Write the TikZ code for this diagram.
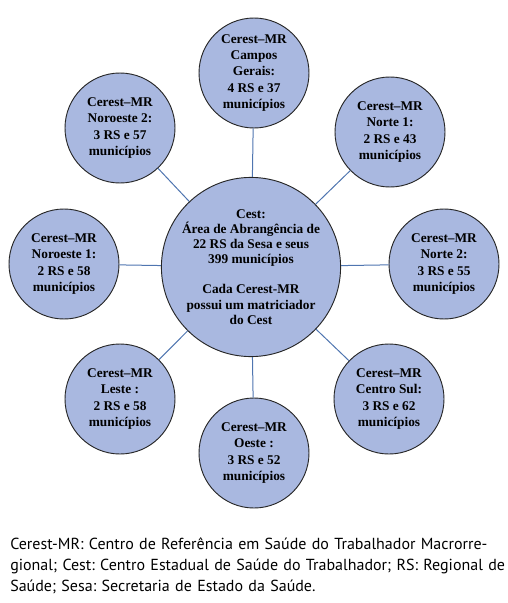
\documentclass[tikz,border=0pt]{standalone}
\usepackage{fontspec}
\setmainfont{Liberation Serif}
\newfontfamily\legendafont{PT Sans}
\usepackage{tikz}
\usetikzlibrary{positioning}
\definecolor{preenchimento}{HTML}{A9B8E0}
\definecolor{ligacao}{HTML}{4F75B0}
\tikzset{regiao/.style = {draw = black!85, fill = preenchimento, circle, line width = 0.7pt, minimum size = 82.5pt, inner sep = 0, align = center, font = \bfseries\fontsize{10}{12.2}\selectfont}}
\tikzset{cestcirc/.style = {regiao, minimum size = 124.5pt, font = \bfseries\fontsize{10}{11.3}\selectfont}}
\tikzset{liga/.style = {draw = ligacao, line width = 0.75pt}}
\begin{document}
\begin{tikzpicture}[x = 0.75pt, y = -0.75pt]
    \useasboundingbox (0, 0) rectangle (507, 603);

    \node [cestcirc] (cest) at (251, 267) {Cest:\\Área de Abrangência de\\22 RS da Sesa e seus\\399 municípios\\[11.3pt]Cada Cerest-MR\\possui um matriciador\\do Cest};

    \node [regiao] (camposgerais) at (254, 73) {Cerest--MR\\Campos\\Gerais:\\4 RS e 37\\municípios};
    \node [regiao] (noroeste2) at (120, 128) {Cerest--MR\\Noroeste 2:\\3 RS e 57\\municípios};
    \node [regiao] (norte1) at (390, 132) {Cerest--MR\\Norte 1:\\2 RS e 43\\municípios};
    \node [regiao] (noroeste1) at (64, 264) {Cerest--MR\\Noroeste 1:\\2 RS e 58\\municípios};
    \node [regiao] (norte2) at (444, 264) {Cerest--MR\\Norte 2:\\3 RS e 55\\municípios};
    \node [regiao] (leste) at (120, 399) {Cerest--MR\\Leste :\\2 RS e 58\\municípios};
    \node [regiao] (centrosul) at (389, 399) {Cerest--MR\\Centro Sul:\\3 RS e 62\\municípios};
    \node [regiao] (oeste) at (254, 453) {Cerest--MR\\Oeste :\\3 RS e 52\\municípios};

    \foreach \n in {camposgerais, noroeste2, norte1, noroeste1, norte2, leste, centrosul, oeste}
      \draw [liga] (cest) -- (\n);

    \node [anchor = north west, inner sep = 0, align = left, text width = 365.25pt, font = \legendafont\frenchspacing\fontsize{12}{15.75}\selectfont] (legenda) at (10, 538) {\makebox[\linewidth][s]{Cerest-MR: Centro de Referência em Saúde do Trabalhador Macrorre-}\\\makebox[\linewidth][s]{gional; Cest: Centro Estadual de Saúde do Trabalhador; RS: Regional de}\\Saúde; Sesa: Secretaria de Estado da Saúde.};
  \end{tikzpicture}
\end{document}
